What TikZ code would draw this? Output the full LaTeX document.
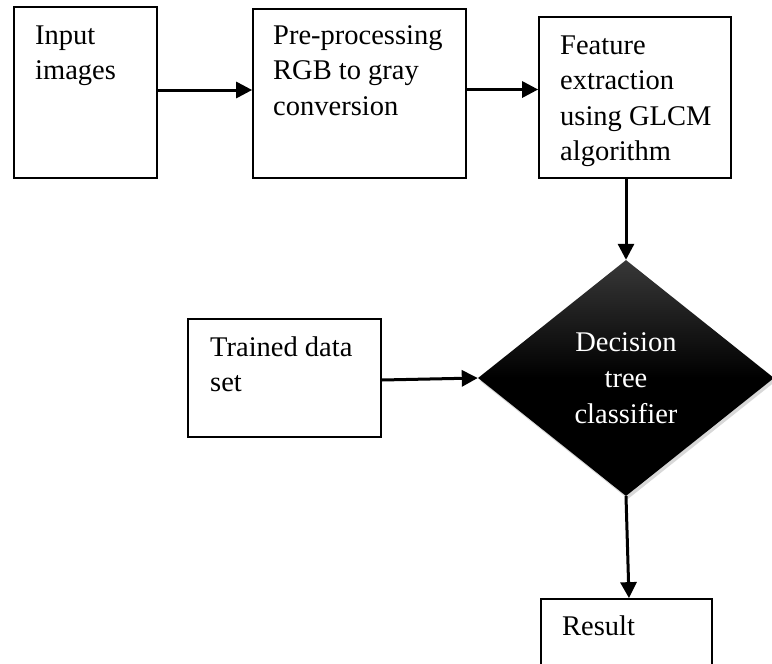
\documentclass[tikz,border=0pt]{standalone}
\usepackage{fontspec}
\setmainfont{Liberation Serif}
\usetikzlibrary{shapes.geometric,arrows.meta,shadows}
\newcommand\fsz{\fontsize{28.5}{35.5}\selectfont}
\newcommand\fsd{\fontsize{28.5}{36}\selectfont}
\newcommand\stackl[1]{\vtop{\halign{##\hfil\cr#1\crcr}}}
\begin{document}
\begin{tikzpicture}[x=1pt,y=-1pt,
  boxframe/.style={draw=black,line width=1.7,inner sep=0,fill=white},
  lbl/.style={anchor=base west,inner sep=0,font=\fsz,text=black},
  arr/.style={line width=3,-{Triangle[length=16,width=16]}}]
\useasboundingbox (0,0) rectangle (772,664);
\clip (0,0) rectangle (772,664);
\fill[white] (0,0) rectangle (772,664);
% boxes
\node[boxframe,minimum width=143,minimum height=171] (in) at (85.5,92.5) {};
\node[lbl] (tin) at (35,44) {\stackl{Input\cr images}};
\node[boxframe,minimum width=213,minimum height=169] (pre) at (359.5,93.5) {};
\node[lbl] (tpre) at (273,44) {\stackl{Pre-processing\cr RGB to gray\cr conversion}};
\node[boxframe,minimum width=192,minimum height=161] (feat) at (635,97.5) {};
\node[lbl] (tfeat) at (560,54) {\stackl{Feature\cr extraction\cr using GLCM\cr algorithm}};
\node[boxframe,minimum width=193,minimum height=118] (train) at (284.5,378) {};
\node[lbl] (ttrain) at (210,356) {\stackl{Trained data\cr set}};
\node[boxframe,minimum width=171,minimum height=100] (res) at (626.5,649) {};
\node[lbl] (tres) at (562,635) {Result};
% decision diamond
\node[diamond,aspect=1.254,minimum width=296,minimum height=236,inner sep=0,
  top color=black!78,bottom color=black,middle color=black,
  drop shadow={shadow xshift=2pt,shadow yshift=-3pt,opacity=0.3},
  text=white,align=center,font=\fsd] (dec) at (626,378) {Decision\\tree\\classifier};
% connectors
\draw[arr] (in.east |- 0,90) -- (pre.west |- 0,90);
\draw[arr] (pre.east |- 0,89.5) -- (feat.west |- 0,89.5);
\draw[arr] (feat.south -| 626,0) -- (dec.north);
\draw[arr] (train.east |- 0,380) -- (dec.west);
\draw[arr] (dec.south) -- (res.north -| 629,0);
\end{tikzpicture}
\end{document}
